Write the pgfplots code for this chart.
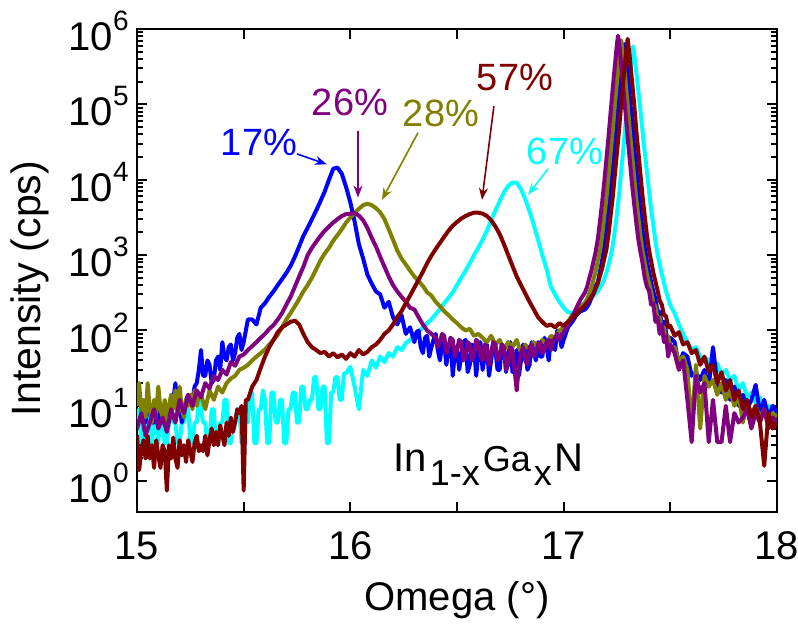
\documentclass[border=0pt]{standalone}
\usepackage{fontspec}
\setmainfont{Liberation Sans}
\usepackage{pgfplots}
\pgfplotsset{compat=1.18}
\usetikzlibrary{arrows.meta}
\definecolor{cBlue}{RGB}{0,0,255}
\definecolor{cPurple}{RGB}{128,0,128}
\definecolor{cOlive}{RGB}{128,128,0}
\definecolor{cMaroon}{RGB}{128,0,0}
\definecolor{cCyan}{RGB}{0,255,255}
\newcommand{\tp}[1]{10\raisebox{0.5em}{\fontsize{14}{14}\selectfont #1}}
\newcommand{\sm}{\fontsize{18}{18}\selectfont}
\begin{document}
\begin{tikzpicture}
\path[use as bounding box] (-68.5pt,-60pt) rectangle (330.5pt,256pt);
\begin{axis}[
  scale only axis, width=320pt, height=241.5pt,
  xmin=15, xmax=18, ymode=log, ymin=0.39, ymax=1e6,
  xtick={15,16,17,18},
  extra x ticks={15.5,16.5,17.5}, extra x tick labels={},
  ytick={1,10,100,1000,10000,100000,1000000},
  yticklabels={\tp{0},\tp{1},\tp{2},\tp{3},\tp{4},\tp{5},\tp{6}},
  /pgf/number format/assume math mode=true,
  tick label style={font=\fontsize{20}{20}\selectfont},
  xticklabel style={anchor=center, yshift=-17pt},
  yticklabel style={anchor=east, inner sep=0pt, xshift=-4pt, yshift=-1pt},
  major tick length=5pt, minor tick length=3pt,
  tick style={black, line width=1pt},
  axis line style={line width=1.2pt},
  xlabel={Omega (\textdegree)},
  ylabel={Intensity (cps)},
  xlabel style={font=\fontsize{20}{20}\selectfont, at={(axis description cs:0.5,0)}, anchor=center, yshift=-44pt},
  ylabel style={font=\fontsize{20.5}{20.5}\selectfont, at={(axis description cs:0,0.5)}, anchor=center, xshift=-9pt, yshift=53.5pt},
  every axis plot/.append style={line width=2pt, line join=round, no markers},
]
% cyan 67%
\addplot[cCyan] table {
15.00 6
15.01 9
15.02 3.2
15.03 3.2
15.04 6
15.05 9
15.06 9
15.07 3.2
15.08 6
15.09 6
15.10 3.2
15.11 9
15.12 6
15.13 3.2
15.14 3.2
15.15 6
15.16 9
15.17 6
15.18 6
15.19 3.2
15.20 3.2
15.21 6
15.22 6
15.23 9
15.24 9
15.25 3.2
15.26 3.2
15.27 6
15.28 6
15.29 12
15.30 9
15.31 6
15.32 6
15.33 3.2
15.34 3.2
15.35 9
15.36 9
15.37 3.2
15.38 3.2
15.39 6
15.40 6
15.41 12
15.42 12
15.43 3.2
15.44 3.2
15.45 6
15.46 6
15.47 9
15.48 9
15.49 3.2
15.50 3.2
15.51 9
15.52 6
15.53 15
15.54 15
15.55 3.2
15.56 3.2
15.57 9
15.58 9
15.59 16
15.60 12
15.61 3.2
15.62 3.2
15.63 15
15.64 15
15.65 6
15.66 6
15.67 12
15.68 12
15.69 3.2
15.70 3.2
15.71 9
15.72 9
15.73 15
15.74 15
15.75 6
15.76 6
15.77 18
15.78 18
15.79 9
15.80 9
15.81 12
15.82 12
15.83 24
15.84 24
15.85 9
15.86 9
15.87 18
15.88 18
15.89 3.2
15.90 3.2
15.91 15
15.92 15
15.93 24
15.94 24
15.95 12
15.96 12
15.97 27
15.98 27
15.99 30
16.00 33
16.02 18
16.04 9
16.06 30
16.08 25
16.10 40
16.12 32
16.14 45
16.16 38
16.18 50
16.20 45
16.22 60
16.24 55
16.26 68
16.28 75
16.30 85
16.32 95
16.34 110
16.36 125
16.38 140
16.40 165
16.42 190
16.44 230
16.46 270
16.48 320
16.50 400
16.52 500
16.54 620
16.56 780
16.58 1000
16.60 1250
16.62 1600
16.64 2100
16.66 2900
16.68 3900
16.70 5200
16.72 6800
16.74 8300
16.76 9200
16.78 9100
16.80 7500
16.82 5500
16.84 3800
16.86 2500
16.88 1600
16.90 1000
16.92 650
16.94 380
16.96 300
16.98 240
17.00 200
17.02 175
17.04 170
17.06 180
17.08 200
17.10 240
17.11 250
17.12 260
17.13 270
17.14 290
17.15 310
17.16 330
17.17 370
17.18 410
17.19 480
17.20 580
17.21 730
17.22 960
17.23 1340
17.24 2150
17.25 3550
17.26 6600
17.27 13200
17.28 26300
17.29 56200
17.30 117500
17.31 234000
17.32 468000
17.325 589000
17.33 490000
17.34 275000
17.35 151000
17.36 83200
17.37 42700
17.38 23400
17.39 12900
17.40 7240
17.41 4070
17.42 2510
17.43 1550
17.44 1020
17.45 760
17.46 560
17.47 430
17.48 330
17.49 265
17.50 215
17.52 170
17.54 120
17.56 90
17.58 70
17.60 55
17.62 60
17.64 45
17.66 40
17.68 42
17.70 30
17.72 36
17.74 26
17.76 30
17.78 22
17.80 25
17.82 16
17.84 20
17.86 13
17.88 15
17.90 11
17.92 13
17.94 8
17.96 10
17.98 7
18.00 8
};
% blue 17%
\addplot[cBlue] table {
15.00 20
15.01 12
15.02 10
15.03 6
15.04 6
15.05 10
15.06 10
15.07 6
15.08 6
15.09 10
15.10 10
15.11 6
15.12 8
15.13 10
15.14 6
15.15 6
15.16 10
15.17 12
15.18 20
15.19 10
15.20 10
15.21 6
15.22 8
15.23 12
15.24 14
15.25 10
15.26 12
15.27 18
15.28 20
15.29 30
15.30 55
15.31 25
15.32 25
15.33 40
15.34 35
15.35 20
15.36 22
15.37 40
15.38 45
15.39 30
15.40 70
15.41 45
15.42 40
15.43 60
15.44 65
15.45 40
15.46 50
15.47 80
15.48 90
15.49 55
15.50 70
15.52 140
15.54 140
15.56 120
15.58 200
15.60 230
15.62 280
15.64 330
15.66 400
15.68 480
15.70 580
15.72 720
15.74 950
15.76 1300
15.78 1800
15.80 2300
15.82 3000
15.84 3900
15.86 5200
15.88 7000
15.90 10000
15.92 14000
15.94 14500
15.96 12000
15.98 8000
16.00 5000
16.02 2800
16.04 1400
16.06 900
16.08 550
16.10 420
16.12 330
16.14 300
16.16 200
16.18 240
16.20 150
16.22 120
16.24 160
16.26 90
16.28 110
16.30 70
16.31 95
16.32 100
16.33 60
16.34 50
16.35 80
16.36 85
16.37 45
16.38 60
16.39 75
16.40 90
16.41 55
16.42 40
16.43 65
16.44 70
16.45 35
16.46 55
16.47 80
16.48 25
16.49 50
16.50 60
16.51 30
16.52 45
16.53 70
16.54 75
16.55 28
16.56 35
16.57 65
16.58 60
16.59 25
16.60 50
16.61 70
16.62 30
16.63 45
16.64 65
16.65 25
16.66 40
16.67 70
16.68 55
16.69 30
16.70 30
16.71 65
16.72 60
16.73 28
16.74 45
16.75 70
16.76 28
16.77 40
16.78 55
16.79 25
16.80 40
16.81 65
16.82 60
16.83 30
16.84 35
16.85 70
16.86 50
16.87 40
16.88 70
16.89 45
16.90 45
16.91 80
16.92 60
16.93 40
16.94 80
16.95 65
16.96 55
16.97 100
16.98 90
16.99 60
17.00 75
17.02 110
17.04 130
17.06 160
17.08 180
17.10 190
17.11 205
17.12 230
17.13 270
17.14 310
17.15 390
17.16 436
17.17 600
17.18 850
17.19 1260
17.20 2140
17.21 3800
17.22 7080
17.23 14100
17.24 28200
17.25 60000
17.26 126000
17.27 251000
17.28 500000
17.285 631000
17.29 500000
17.30 251000
17.31 126000
17.32 60000
17.33 28200
17.34 14100
17.35 7080
17.36 3800
17.37 2140
17.38 1260
17.39 850
17.40 600
17.41 436
17.42 331
17.43 260
17.44 180
17.45 175
17.46 120
17.47 130
17.48 95
17.49 60
17.50 80
17.52 70
17.54 35
17.56 50
17.58 45
17.60 25
17.62 28
17.64 22
17.66 30
17.68 18
17.70 60
17.72 20
17.74 15
17.76 22
17.78 12
17.80 18
17.82 10
17.84 14
17.86 9
17.88 12
17.90 19
17.92 8
17.94 12
17.96 7
17.98 10
18.00 8
};
% olive 28%
\addplot[cOlive] table {
15.00 10
15.01 20
15.02 8
15.03 12
15.04 7
15.05 20
15.06 9
15.07 6
15.08 12
15.09 8
15.10 18
15.11 9
15.12 7
15.13 12
15.14 6
15.15 10
15.16 14
15.17 9
15.18 16
15.19 8
15.20 18
15.21 9
15.22 7
15.23 12
15.24 10
15.25 14
15.26 9
15.27 16
15.28 10
15.29 14
15.30 14
15.32 9
15.34 16
15.36 12
15.38 18
15.40 15
15.42 20
15.44 23
15.46 25
15.48 30
15.50 32
15.52 35
15.54 40
15.56 45
15.58 50
15.60 56
15.62 65
15.64 75
15.66 88
15.68 110
15.70 140
15.72 170
15.74 210
15.76 260
15.78 330
15.80 400
15.82 500
15.84 650
15.86 850
15.88 1050
15.90 1250
15.92 1550
15.94 1850
15.96 2200
15.98 2700
16.00 3150
16.02 3600
16.04 4100
16.06 4600
16.08 4800
16.10 4600
16.12 4200
16.14 3700
16.16 3000
16.18 2200
16.20 1600
16.22 1150
16.24 900
16.26 750
16.28 620
16.30 520
16.32 450
16.34 390
16.36 320
16.38 290
16.40 240
16.42 210
16.44 180
16.46 160
16.48 140
16.50 125
16.52 110
16.54 100
16.56 105
16.58 85
16.60 90
16.62 80
16.64 70
16.66 85
16.68 65
16.70 75
16.72 55
16.74 70
16.76 60
16.78 75
16.80 50
16.82 65
16.84 55
16.86 70
16.88 60
16.90 75
16.92 65
16.94 85
16.96 80
16.98 100
17.00 110
17.02 130
17.04 160
17.06 180
17.08 210
17.10 230
17.11 260
17.12 310
17.13 370
17.14 480
17.15 610
17.16 840
17.17 1120
17.18 1780
17.19 3160
17.20 5620
17.21 11200
17.22 22400
17.23 44700
17.24 100000
17.25 200000
17.26 398000
17.27 708000
17.28 398000
17.29 200000
17.30 100000
17.31 44700
17.32 22400
17.33 11200
17.34 5620
17.35 3160
17.36 1780
17.37 1120
17.38 794
17.39 562
17.40 427
17.41 330
17.42 230
17.43 210
17.44 140
17.45 150
17.46 100
17.47 110
17.48 70
17.49 85
17.50 55
17.52 60
17.54 40
17.56 45
17.58 30
17.60 5
17.62 35
17.64 5
17.66 25
17.68 18
17.70 22
17.72 14
17.74 20
17.76 12
17.78 16
17.80 10
17.82 14
17.84 6
17.86 11
17.88 8
17.90 10
17.92 7
17.94 9
17.96 6
17.98 8
18.00 7
};
% purple 26%
\addplot[cPurple] table {
15.00 5
15.02 8
15.04 4
15.06 6
15.08 9
15.10 5
15.12 7
15.14 4.5
15.16 9
15.18 6
15.20 12
15.22 8
15.24 14
15.26 10
15.28 16
15.30 13
15.32 20
15.34 17
15.36 25
15.38 22
15.40 30
15.42 26
15.44 38
15.46 34
15.48 45
15.50 48
15.52 55
15.54 62
15.56 70
15.58 80
15.60 90
15.62 105
15.64 118
15.66 140
15.68 170
15.70 220
15.72 280
15.74 380
15.76 520
15.78 700
15.80 1000
15.82 1250
15.84 1500
15.86 1800
15.88 2100
15.90 2400
15.92 2700
15.94 3000
15.96 3300
15.98 3500
16.00 3550
16.02 3600
16.04 3350
16.06 2900
16.08 2300
16.10 1700
16.12 1300
16.14 950
16.16 700
16.18 520
16.20 400
16.22 330
16.24 280
16.26 240
16.28 200
16.30 190
16.32 150
16.34 120
16.36 100
16.38 90
16.40 80
16.41 60
16.42 70
16.43 90
16.44 85
16.45 50
16.46 60
16.47 80
16.48 75
16.49 45
16.50 55
16.51 75
16.52 70
16.53 40
16.54 45
16.55 70
16.56 65
16.57 40
16.58 50
16.59 75
16.60 70
16.61 45
16.62 40
16.63 65
16.64 60
16.65 35
16.66 50
16.67 70
16.68 65
16.69 40
16.70 45
16.71 65
16.72 60
16.73 30
16.74 35
16.75 60
16.76 55
16.77 30
16.78 16
16.79 35
16.80 50
16.81 60
16.82 40
16.83 35
16.84 60
16.85 65
16.86 45
16.87 50
16.88 65
16.89 70
16.90 50
16.91 55
16.92 70
16.93 75
16.94 55
16.95 70
16.96 80
16.97 90
16.98 75
16.99 85
17.00 95
17.02 120
17.04 150
17.06 200
17.08 260
17.10 320
17.11 380
17.12 490
17.13 620
17.14 830
17.15 1100
17.16 1620
17.17 2750
17.18 4900
17.19 9100
17.20 18200
17.21 36300
17.22 77600
17.23 162000
17.24 324000
17.25 646000
17.255 813000
17.26 646000
17.27 324000
17.28 162000
17.29 77600
17.30 36300
17.31 18200
17.32 9100
17.33 4900
17.34 2750
17.35 1620
17.36 1100
17.37 776
17.38 500
17.39 380
17.40 340
17.41 220
17.42 230
17.43 130
17.44 150
17.45 90
17.46 120
17.47 70
17.48 85
17.49 45
17.50 65
17.52 50
17.54 30
17.56 40
17.58 12
17.60 3.3
17.62 25
17.64 15
17.66 20
17.68 3.3
17.70 12
17.72 3.3
17.74 3.3
17.76 10
17.78 3.3
17.80 8
17.82 6
17.84 7
17.86 9
17.88 5
17.90 8
17.92 6
17.94 9
17.96 5
17.98 7
18.00 6
};
% maroon 57%
\addplot[cMaroon] table {
15.00 4
15.01 1.4
15.02 2.5
15.03 3.5
15.04 2
15.05 4
15.06 2
15.07 3
15.08 1.5
15.09 3.5
15.10 2.2
15.11 1.5
15.12 3
15.13 2.5
15.14 0.75
15.15 3
15.16 2
15.17 3.8
15.18 2
15.19 1.5
15.20 3.5
15.21 2.2
15.22 3
15.23 1.8
15.24 3.5
15.25 2.5
15.26 1.8
15.27 3.2
15.28 4
15.29 2.5
15.30 3
15.31 2.5
15.32 4
15.33 2.2
15.34 3.5
15.35 5
15.36 3
15.37 4.5
15.38 3
15.39 5.5
15.40 4
15.41 3
15.42 6
15.43 4
15.44 7
15.45 4.5
15.46 6
15.47 9
15.48 8
15.49 10
15.50 0.75
15.51 12
15.52 12
15.54 18
15.56 22
15.58 32
15.60 45
15.62 60
15.64 75
15.66 95
15.68 110
15.70 120
15.72 130
15.74 135
15.76 120
15.78 90
15.80 70
15.82 60
15.84 55
15.86 50
15.88 52
15.90 45
15.92 50
15.94 44
15.96 48
15.98 42
16.00 50
16.02 45
16.04 55
16.06 48
16.08 52
16.10 60
16.12 65
16.14 75
16.16 90
16.18 100
16.20 120
16.22 150
16.24 180
16.26 230
16.28 290
16.30 370
16.32 470
16.34 600
16.36 780
16.38 980
16.40 1200
16.42 1450
16.44 1750
16.46 2100
16.48 2450
16.50 2750
16.52 3050
16.54 3300
16.56 3500
16.58 3650
16.60 3650
16.62 3550
16.64 3300
16.66 2900
16.68 2400
16.70 1900
16.72 1400
16.74 1000
16.76 720
16.78 520
16.80 400
16.82 310
16.84 240
16.86 190
16.88 150
16.90 130
16.92 115
16.94 120
16.96 110
16.98 125
17.00 115
17.02 130
17.04 145
17.06 165
17.08 190
17.10 215
17.11 236
17.12 255
17.13 280
17.14 310
17.15 360
17.16 420
17.17 530
17.18 660
17.19 890
17.20 1175
17.21 1860
17.22 3310
17.23 5890
17.24 11750
17.25 23400
17.26 46800
17.27 104700
17.28 208900
17.29 416900
17.30 741000
17.31 416900
17.32 208900
17.33 104700
17.34 46800
17.35 23400
17.36 11750
17.37 5890
17.38 3310
17.39 1860
17.40 1175
17.41 832
17.42 589
17.43 447
17.44 340
17.45 250
17.46 220
17.47 160
17.48 155
17.49 110
17.50 115
17.52 85
17.54 95
17.56 65
17.58 70
17.60 50
17.62 55
17.64 35
17.66 45
17.68 28
17.70 35
17.72 20
17.74 28
17.76 16
17.78 22
17.80 12
17.82 16
17.84 9
17.86 12
17.88 7
17.90 10
17.92 6
17.94 1.6
17.96 8
17.98 5
18.00 6
};
% annotations
\node[cBlue, font=\fontsize{19}{19}\selectfont] at (axis cs:15.572,3.1e4) {17\%};
\draw[cBlue, line width=0.8pt, -{Stealth[length=6pt,width=4.5pt]}] (axis cs:15.75,2.2e4) -- (axis cs:15.89,1.6e4);
\node[cPurple, font=\fontsize{19}{19}\selectfont] at (axis cs:15.998,1.05e5) {26\%};
\draw[cPurple, line width=0.8pt, -{Stealth[length=6pt,width=4.5pt]}] (axis cs:16.036,4.5e4) -- (axis cs:16.036,5.8e3);
\node[cOlive, font=\fontsize{19}{19}\selectfont] at (axis cs:16.425,7.7e4) {28\%};
\draw[cOlive, line width=0.8pt, -{Stealth[length=6pt,width=4.5pt]}] (axis cs:16.317,4.2e4) -- (axis cs:16.148,5.4e3);
\node[cMaroon, font=\fontsize{19}{19}\selectfont] at (axis cs:16.772,2.24e5) {57\%};
\draw[cMaroon, line width=0.8pt, -{Stealth[length=6pt,width=4.5pt]}] (axis cs:16.673,9.5e4) -- (axis cs:16.617,5.4e3);
\node[cCyan, font=\fontsize{19}{19}\selectfont] at (axis cs:17.006,2.35e4) {67\%};
\draw[cCyan, line width=0.8pt, -{Stealth[length=6pt,width=4.5pt]}] (axis cs:16.927,1.4e4) -- (axis cs:16.833,6.3e3);
\node[anchor=base west, inner sep=0pt, font=\fontsize{20}{20}\selectfont] at (axis cs:16.2,1.35)
  {In\kern1.5pt\raisebox{-7pt}{\sm 1-x}\kern1.5pt{\sm Ga}\kern1.5pt\raisebox{-7pt}{\sm x}\kern1.5pt N};
\end{axis}
\end{tikzpicture}
\end{document}
